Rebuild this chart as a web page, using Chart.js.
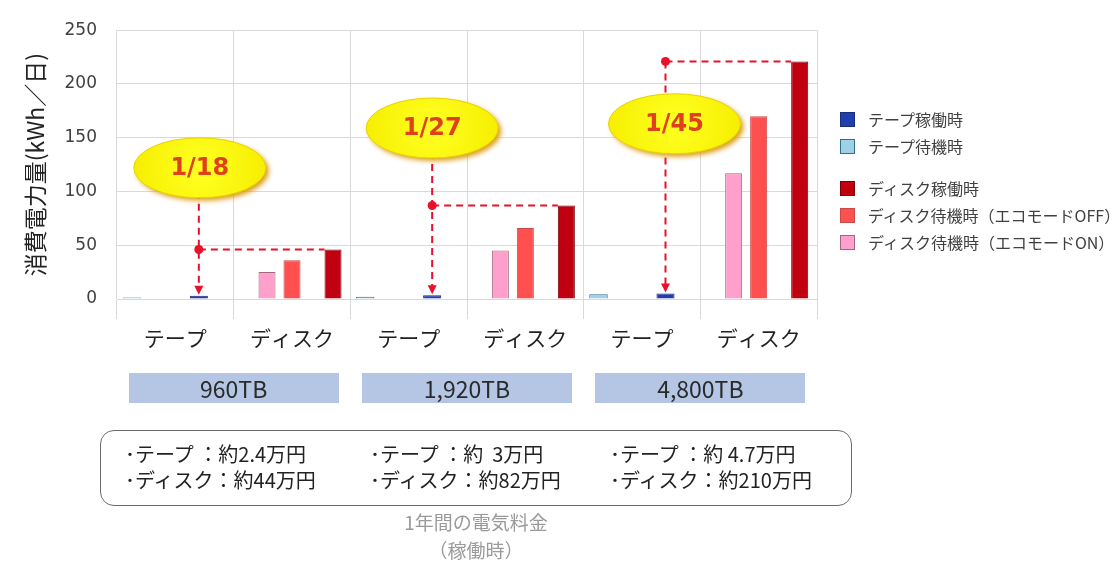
<!DOCTYPE html>
<html><head><meta charset="utf-8">
<script src="https://cdn.jsdelivr.net/npm/chart.js@4"></script>
<style>
html,body{margin:0;padding:0;background:#fff;}
body{width:1115px;height:565px;position:relative;overflow:hidden;font-family:"Noto Sans CJK JP","Noto Sans",sans-serif;}
#c{position:absolute;left:0;top:0;}
.abs{position:absolute;white-space:pre;}
.legend-item{position:absolute;left:840px;height:20px;display:flex;align-items:center;font-size:16px;color:#404040;}
.legend-item .sw{width:15px;height:15px;box-sizing:border-box;margin-right:13px;}
.cap{position:absolute;height:30px;line-height:30px;background:#b4c6e4;text-align:center;font-size:23px;color:#2a2a2a;}
.cost{position:absolute;font-size:20px;color:#222;line-height:26px;white-space:pre;}
</style></head><body>
<canvas id="c" width="1115" height="565"></canvas>
<div id="legend"></div>
<div id="caps"></div>
<div class="abs" style="left:100px;top:430px;width:750px;height:74px;border:1.5px solid #6b6b6b;border-radius:14px;"></div>
<div id="costs"></div>
<div class="abs" style="left:376px;top:508px;width:200px;text-align:center;font-size:19px;color:#9a9a9a;line-height:28px;">1年間の電気料金<br>（稼働時）</div>
<script>
// ---- data ----
const categories = ['テープ', 'ディスク', 'テープ', 'ディスク', 'テープ', 'ディスク'];
const capacityLabels = ['960TB', '1,920TB', '4,800TB'];
const tapeStandby = [1.5, 2, 4.5];
const tapeActive = [3, 3.5, 5];
const diskStandbyEcoOn = [25, 45, 117];
const diskStandbyEcoOff = [36, 66, 170];
const diskActive = [46, 87, 221];
const ratioLabels = ['1/18', '1/27', '1/45'];
const yTicks = [0, 50, 100, 150, 200, 250];
const costTape = ['･テープ ：約2.4万円', '･テープ ：約  3万円', '･テープ ：約 4.7万円'];
const costDisk = ['･ディスク：約44万円', '･ディスク：約82万円', '･ディスク：約210万円'];
const seriesNames = ['テープ稼働時', 'テープ待機時', 'ディスク稼働時', 'ディスク待機時（エコモードOFF）', 'ディスク待機時（エコモードON）'];

// ---- styles ----
const C = {
  tapeActive: {bg: '#1f3fb0', bd: '#1b2d78'},
  tapeStandby: {bg: '#9fd0e6', bd: '#2f7090'},
  diskActive: {bg: '#c00010', bd: '#7a0008'},
  diskOff: {bg: '#ff4f4f', bd: '#c84a48'},
  diskOn: {bg: '#ff9fcc', bd: '#a06878'}
};
const legendStyles = [C.tapeActive, C.tapeStandby, C.diskActive, C.diskOff, C.diskOn];
const legendTops = [109, 136, 178, 205, 232];
const calloutLevels = [122, 159, 163];
const calloutDx = [1, 0, 9];

const tapeCat = categories.map((c, i) => i % 2 === 0);
const onTape = arr => { let k = 0; return categories.map((_, i) => tapeCat[i] ? arr[k++] : null); };
const onDisk = arr => { let k = 0; return categories.map((_, i) => tapeCat[i] ? null : arr[k++]); };

const callouts = {
  id: 'callouts',
  afterDatasetsDraw(chart) {
    const ctx = chart.ctx, ys = chart.scales.y;
    const tMeta = chart.getDatasetMeta(3), dMeta = chart.getDatasetMeta(4);
    ratioLabels.forEach((label, g) => {
      const tb = tMeta.data[2 * g], db = dMeta.data[2 * g + 1];
      const tx = tb.x, ty = tb.y;
      const dy = ys.getPixelForValue(diskActive[g]);
      const dLeft = db.x - db.width / 2;
      const cy = ys.getPixelForValue(calloutLevels[g]);
      const cx = tx + calloutDx[g];
      ctx.save();
      ctx.strokeStyle = '#e8102a';
      ctx.lineWidth = 2;
      ctx.setLineDash([7, 5]);
      ctx.beginPath();
      ctx.moveTo(tx, Math.min(dy, cy));
      ctx.lineTo(tx, ty - 8);
      ctx.moveTo(tx, dy);
      ctx.lineTo(dLeft, dy);
      ctx.stroke();
      ctx.setLineDash([]);
      ctx.fillStyle = '#e8102a';
      ctx.beginPath();
      ctx.moveTo(tx, ty - 1);
      ctx.lineTo(tx - 4.5, ty - 10);
      ctx.lineTo(tx + 4.5, ty - 10);
      ctx.closePath();
      ctx.fill();
      ctx.shadowColor = 'rgba(215,150,0,0.9)';
      ctx.shadowBlur = 5;
      ctx.shadowOffsetX = 3;
      ctx.shadowOffsetY = 3;
      const grd = ctx.createRadialGradient(cx, cy, 5, cx, cy, 68);
      grd.addColorStop(0, '#ffff20');
      grd.addColorStop(1, '#f6ee00');
      ctx.fillStyle = grd;
      ctx.beginPath();
      ctx.ellipse(cx, cy, 66, 30, 0, 0, Math.PI * 2);
      ctx.fill();
      ctx.shadowColor = 'transparent';
      ctx.strokeStyle = '#e8d200';
      ctx.lineWidth = 1;
      ctx.stroke();
      ctx.fillStyle = '#e0401a';
      ctx.font = 'bold 24px "DejaVu Sans"';
      ctx.textAlign = 'center';
      ctx.textBaseline = 'middle';
      ctx.fillText(label, cx, cy + 1);
      ctx.fillStyle = '#e8102a';
      ctx.beginPath();
      ctx.arc(tx, dy, 4.5, 0, Math.PI * 2);
      ctx.fill();
      ctx.restore();
    });
  }
};

// slot layout per dataset (order defines slot index 0..4)
const ds = (label, data, st, cp, bp) => ({
  label, data, backgroundColor: st.bg, borderColor: st.bd, borderWidth: 1,
  categoryPercentage: cp, barPercentage: bp
});

const chart = new Chart(document.getElementById('c'), {
  type: 'bar',
  data: {
    labels: categories,
    datasets: [
      ds(seriesNames[1], onTape(tapeStandby), C.tapeStandby, 0.932, 0.85),
      ds(seriesNames[4], onDisk(diskStandbyEcoOn), C.diskOn, 1.071, 0.68),
      ds(seriesNames[3], onDisk(diskStandbyEcoOff), C.diskOff, 1.0, 0.73),
      ds(seriesNames[0], onTape(tapeActive), C.tapeActive, 1.007, 0.77),
      ds(seriesNames[2], onDisk(diskActive), C.diskActive, 0.879, 0.83)
    ]
  },
  options: {
    responsive: false,
    animation: false,
    layout: {padding: {left: 0, top: 27, right: 298, bottom: 206}},
    plugins: {legend: {display: false}, tooltip: {enabled: false}},
    scales: {
      x: {
        grid: {color: '#d9d9d9', tickLength: 20, offset: true},
        border: {color: '#d9d9d9'},
        ticks: {font: {family: 'Noto Sans CJK JP', size: 21}, color: '#222', padding: 6},
        afterFit(s) { s.height = 60; }
      },
      y: {
        min: 0, max: 250,
        afterBuildTicks(s) { s.ticks = yTicks.map(v => ({value: v})); },
        ticks: {font: {family: 'DejaVu Sans', size: 17}, color: '#404040', padding: 20},
        grid: {color: '#d9d9d9', drawTicks: false},
        border: {display: false},
        title: {display: true, text: '消費電力量(kWh／日)', font: {family: 'Noto Sans CJK JP', size: 23}, color: '#222', padding: {top: 21, bottom: 0}},
        afterFit(s) { s.width = 117; }
      }
    }
  },
  plugins: [callouts]
});

// legend
const lg = document.getElementById('legend');
seriesNames.forEach((n, i) => {
  const d = document.createElement('div');
  d.className = 'legend-item';
  d.style.top = legendTops[i] + 'px';
  d.innerHTML = '<span class="sw" style="background:' + legendStyles[i].bg + ';border:1px solid ' + legendStyles[i].bd + '"></span>';
  d.appendChild(document.createTextNode(n));
  lg.appendChild(d);
});
// capacity boxes
const xs = chart.scales.x;
const caps = document.getElementById('caps');
capacityLabels.forEach((t, g) => {
  const cx = (xs.getPixelForValue(2 * g) + xs.getPixelForValue(2 * g + 1)) / 2;
  const d = document.createElement('div');
  d.className = 'cap';
  d.style.left = (cx - 105) + 'px';
  d.style.width = '210px';
  d.style.top = '373px';
  d.textContent = t;
  caps.appendChild(d);
});
// costs
const costLeft = [125, 370, 610];
const costs = document.getElementById('costs');
costTape.forEach((t, g) => {
  const d = document.createElement('div');
  d.className = 'cost';
  d.style.left = costLeft[g] + 'px';
  d.style.top = '441px';
  d.textContent = t + '\n' + costDisk[g];
  costs.appendChild(d);
});
</script>
</body></html>
